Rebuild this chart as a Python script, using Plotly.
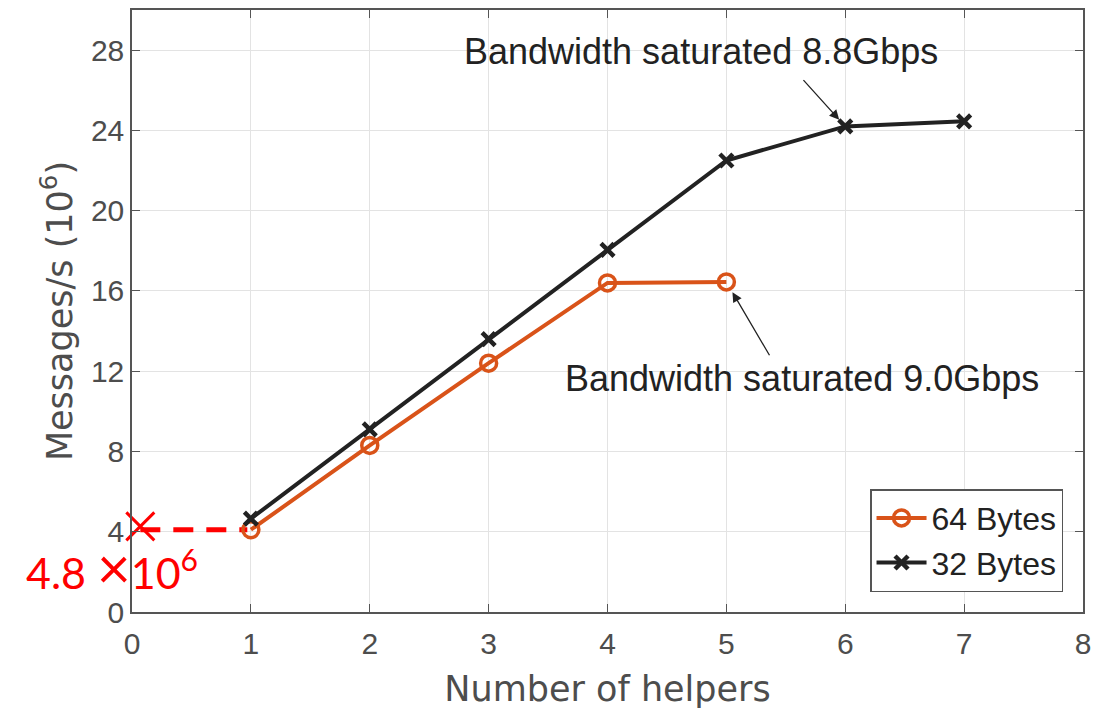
import plotly.graph_objects as go

# Throughput vs. number of helper threads
helpers_64 = [1, 2, 3, 4, 5]
msgs_64 = [4.1, 8.3, 12.4, 16.4, 16.45]
helpers_32 = [1, 2, 3, 4, 5, 6, 7]
msgs_32 = [4.65, 9.1, 13.6, 18.05, 22.5, 24.2, 24.45]

# Single-thread baseline marker
baseline_x = [0.07, 0.97]
baseline_y = [4.1, 4.1]
baseline_mark_y = 4.27

x_ticks = [0, 1, 2, 3, 4, 5, 6, 7, 8]
y_ticks = [0, 4, 8, 12, 16, 20, 24, 28]

ORANGE = "#D95319"
DARK = "#222222"
GREY = "#4D4D4D"
FONT = "Liberation Sans, Arial, sans-serif"
TITLE_FONT = "DejaVu Sans, sans-serif"

fig = go.Figure()

fig.add_trace(go.Scatter(
    x=baseline_x, y=baseline_y, mode="lines",
    line=dict(color="#FF0000", width=5, dash="20px,13px"),
    showlegend=False, hoverinfo="skip", cliponaxis=False,
))
fig.add_trace(go.Scatter(
    x=[baseline_x[0]], y=[baseline_mark_y], mode="markers",
    marker=dict(symbol="x-thin", size=28, line=dict(color="#FF0000", width=3)),
    showlegend=False, hoverinfo="skip", cliponaxis=False,
))

fig.add_trace(go.Scatter(
    x=helpers_64, y=msgs_64, mode="lines+markers", name="64 Bytes",
    line=dict(color=ORANGE, width=4),
    marker=dict(symbol="circle-open", size=16, color=ORANGE, line=dict(color=ORANGE, width=3.5)),
))
fig.add_trace(go.Scatter(
    x=helpers_32, y=msgs_32, mode="lines+markers", name="32 Bytes",
    line=dict(color=DARK, width=4),
    marker=dict(symbol="x-thin", size=13, color=DARK, line=dict(color=DARK, width=4.5)),
))

# Callouts for the saturation points
fig.add_annotation(
    x=6, y=msgs_32[5], ax=5.637, ay=26.58, axref="x", ayref="y",
    xref="x", yref="y", text="", showarrow=True,
    arrowhead=2, arrowsize=1.5, arrowwidth=1.3, arrowcolor=DARK, standoff=9,
)
fig.add_annotation(
    x=4.79, y=27.92, xref="x", yref="y", text="Bandwidth saturated 8.8Gbps",
    showarrow=False, font=dict(family=FONT, size=36, color=DARK),
    xanchor="center", yanchor="middle",
)
fig.add_annotation(
    x=5, y=msgs_64[4], ax=5.37, ay=12.72, axref="x", ayref="y",
    xref="x", yref="y", text="", showarrow=True,
    arrowhead=2, arrowsize=1.5, arrowwidth=1.3, arrowcolor=DARK, standoff=12,
)
fig.add_annotation(
    x=5.637, y=11.62, xref="x", yref="y", text="Bandwidth saturated 9.0Gbps",
    showarrow=False, font=dict(family=FONT, size=36, color=DARK),
    xanchor="center", yanchor="middle",
)
fig.add_annotation(
    x=0.57, y=2.25, xref="x", yref="y",
    text="4.8 <span style='font-size:58px'>×</span>10<sup>6</sup>",
    showarrow=False, font=dict(family="Lato, Open Sans, sans-serif", size=43, color="#FF0000"),
    xanchor="right", yanchor="middle",
)

axis_common = dict(
    showline=True, linecolor="#555555", linewidth=1.5, mirror="ticks",
    ticks="inside", ticklen=8, tickcolor="#555555",
    showgrid=True, gridcolor="#E3E3E3", gridwidth=1, zeroline=False,
    tickfont=dict(family=FONT, size=30, color=GREY),
)

fig.update_xaxes(
    range=[0, 8], tickvals=x_ticks, ticklabelstandoff=4,
    title=dict(text="Number of helpers", font=dict(family=TITLE_FONT, size=35, color=GREY), standoff=18),
    **axis_common,
)
fig.update_yaxes(
    range=[0, 30], tickvals=y_ticks,
    title=dict(text="Messages/s (10<sup>6</sup>)", font=dict(family=TITLE_FONT, size=35, color=GREY), standoff=8),
    **axis_common,
)

fig.update_layout(
    width=1099, height=718,
    margin=dict(l=132, r=9, t=8, b=106),
    paper_bgcolor="white", plot_bgcolor="white",
    legend=dict(
        x=0.979, y=0.033, xanchor="right", yanchor="bottom",
        bgcolor="white", bordercolor="#555555", borderwidth=1.5,
        font=dict(family=FONT, size=32, color=DARK),
        itemwidth=50, tracegroupgap=0,
    ),
)

fig.write_html("out.html")
